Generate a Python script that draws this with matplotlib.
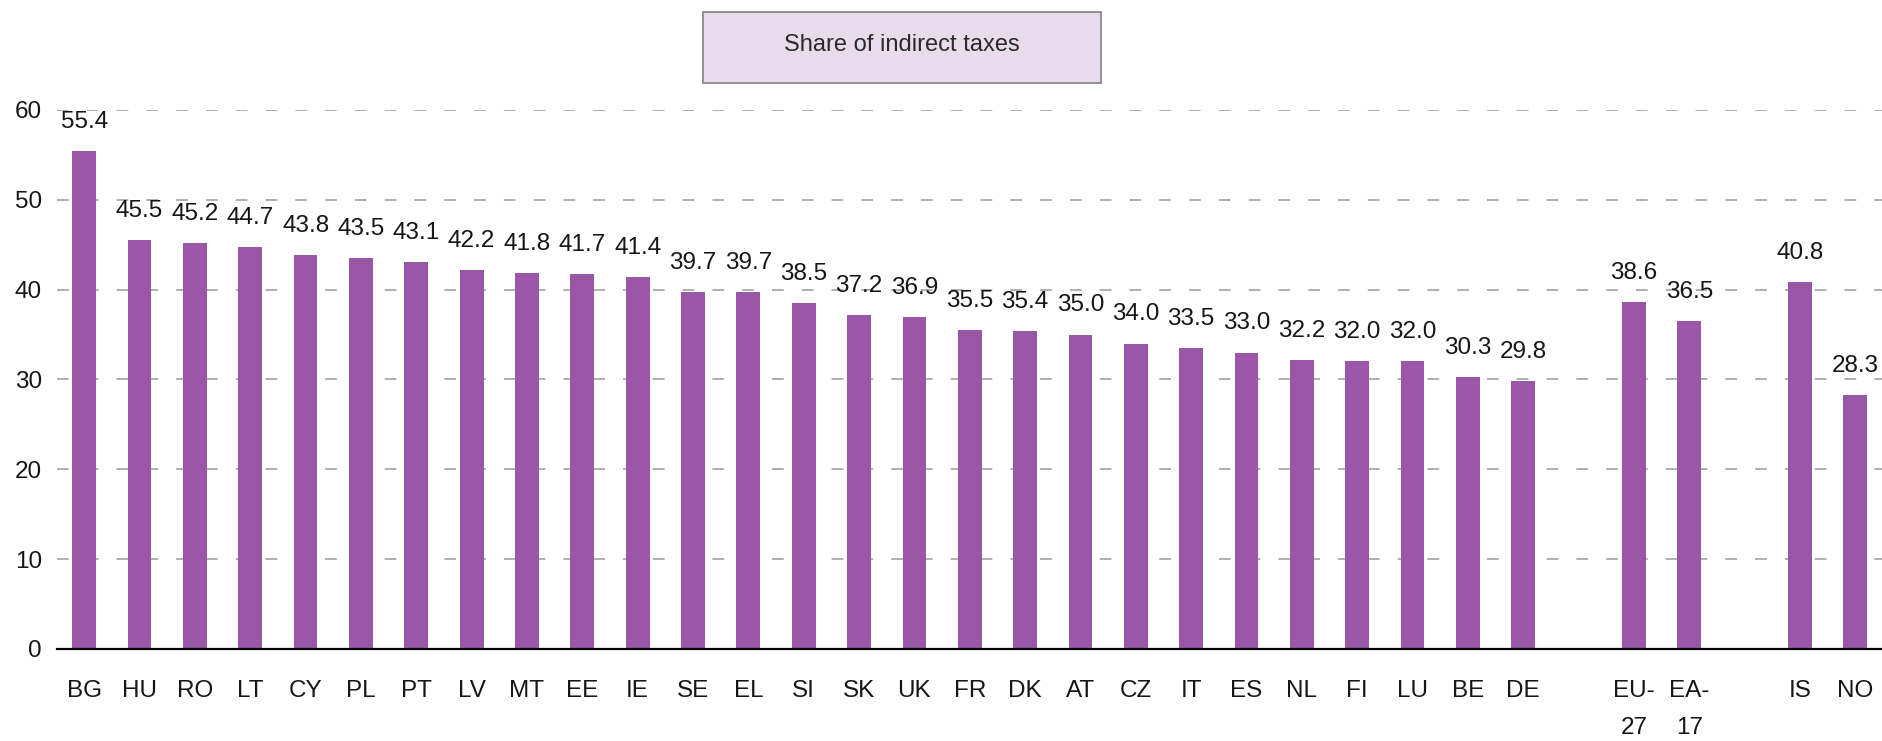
import matplotlib
matplotlib.use('Agg')
import matplotlib.pyplot as plt
from matplotlib.patches import Rectangle

plt.rcParams['font.family'] = ['Liberation Sans', 'DejaVu Sans']

# Share of indirect taxes (% of total taxation)
countries = ['BG', 'HU', 'RO', 'LT', 'CY', 'PL', 'PT', 'LV', 'MT', 'EE', 'IE', 'SE', 'EL', 'SI',
             'SK', 'UK', 'FR', 'DK', 'AT', 'CZ', 'IT', 'ES', 'NL', 'FI', 'LU', 'BE', 'DE']
country_values = [55.4, 45.5, 45.2, 44.7, 43.8, 43.5, 43.1, 42.2, 41.8, 41.7, 41.4, 39.7, 39.7, 38.5,
                  37.2, 36.9, 35.5, 35.4, 35.0, 34.0, 33.5, 33.0, 32.2, 32.0, 32.0, 30.3, 29.8]
aggregates = ['EU-\n27', 'EA-\n17']
aggregate_values = [38.6, 36.5]
others = ['IS', 'NO']
other_values = [40.8, 28.3]

labels = countries + aggregates + others
values = country_values + aggregate_values + other_values
# one empty slot between each group
pos = list(range(len(countries)))
pos += [len(countries) + 1 + i for i in range(len(aggregates))]
pos += [pos[-1] + 2 + i for i in range(len(others))]

bar_color = '#9a56a7'
text_color = '#161616'

fig = plt.figure(figsize=(18.83, 7.41), dpi=100)
ax = fig.add_axes([0.0303, 0.1242, 0.9697, 0.7274])

ax.bar(pos, values, width=0.43, color=bar_color, zorder=3)
for x, v in zip(pos, values):
    ax.annotate(f'{v:.1f}', (x, v), xytext=(0, 13), textcoords='offset points',
                ha='center', va='bottom', fontsize=17.5, color=text_color, clip_on=False)

ax.set_xlim(-0.49, 32.5)
ax.set_ylim(0, 60)
ax.set_yticks(range(0, 61, 10))
ax.yaxis.grid(True, color='#a9a9a9', linestyle=(0, (6.5, 10)), linewidth=1.3, zorder=0)
ax.set_xticks(pos)
ax.set_xticklabels(labels, fontsize=17.5, color=text_color, va='top', linespacing=1.9)
ax.tick_params(axis='x', length=0, pad=22)
ax.tick_params(axis='y', length=0, pad=11, labelsize=17.5, labelcolor=text_color)
for side in ['top', 'right', 'left']:
    ax.spines[side].set_visible(False)
ax.spines['bottom'].set_color('black')
ax.spines['bottom'].set_linewidth(1.6)
ax.spines['bottom'].set_zorder(4)

# title box at the top
fig.patches.append(Rectangle((703 / 1883, 1 - 83 / 741), 398 / 1883, 71 / 741,
                             transform=fig.transFigure, facecolor='#e8dcec',
                             edgecolor='#8a8a8a', linewidth=1.3))
fig.text(902 / 1883, 1 - 45 / 741, 'Share of indirect taxes', ha='center', va='center',
         fontsize=17, color='#2a2a2a')

fig.savefig('out.png', dpi=100)
